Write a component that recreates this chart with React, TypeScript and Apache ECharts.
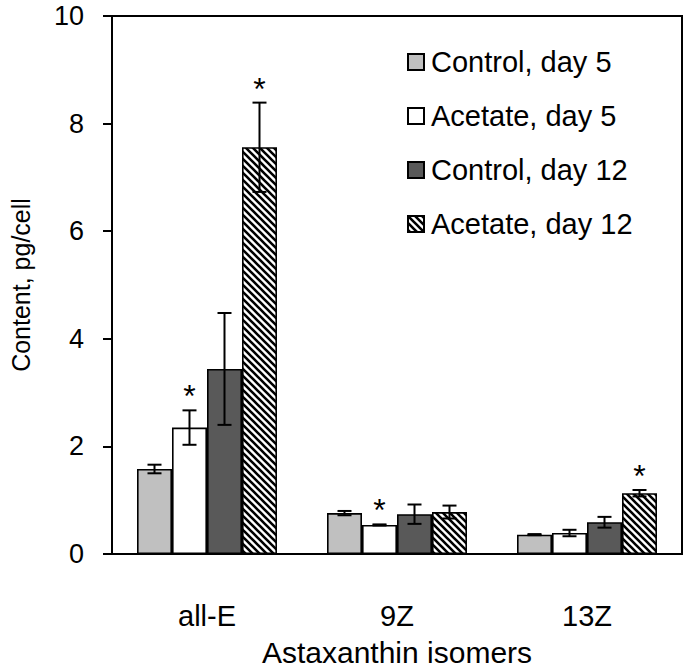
import React, { useEffect, useRef } from 'react';
import * as echarts from 'echarts';

const categories = ['all-E', '9Z', '13Z'];
const seriesNames = ['Control, day 5', 'Acetate, day 5', 'Control, day 12', 'Acetate, day 12'];
const control5 = [1.58, 0.76, 0.36];
const control5Err = [0.08, 0.04, 0.01];
const control5Sig = [false, false, false];
const acetate5 = [2.35, 0.54, 0.39];
const acetate5Err = [0.32, 0.01, 0.06];
const acetate5Sig = [true, true, false];
const control12 = [3.44, 0.74, 0.59];
const control12Err = [1.04, 0.18, 0.1];
const control12Sig = [false, false, false];
const acetate12 = [7.56, 0.78, 1.13];
const acetate12Err = [0.83, 0.12, 0.06];
const acetate12Sig = [true, false, true];
const yMin = 0;
const yMax = 10;
const yInterval = 2;

const FONT = "'Liberation Sans', Arial, Helvetica, sans-serif";
const BAR_WIDTH = 35;

function makeHatch(): HTMLCanvasElement {
  const s = 7;
  const c = document.createElement('canvas');
  c.width = s;
  c.height = s;
  const ctx = c.getContext('2d')!;
  ctx.fillStyle = '#ffffff';
  ctx.fillRect(0, 0, s, s);
  ctx.strokeStyle = '#000000';
  ctx.lineWidth = 2.6;
  ctx.beginPath();
  for (const o of [-s, 0, s]) {
    ctx.moveTo(o - 2, -2);
    ctx.lineTo(o + s + 2, s + 2);
  }
  ctx.stroke();
  return c;
}

export default function App() {
  const ref = useRef<HTMLDivElement>(null);

  useEffect(() => {
    if (!ref.current) return;
    const chart = echarts.init(ref.current, undefined, { renderer: 'svg' });

    const values = [control5, acetate5, control12, acetate12];
    const errs = [control5Err, acetate5Err, control12Err, acetate12Err];
    const sigs = [control5Sig, acetate5Sig, control12Sig, acetate12Sig];
    const fills: any[] = [
      '#c0c0c0',
      '#ffffff',
      '#595959',
      { image: makeHatch(), repeat: 'repeat' },
    ];

    const barSeries = seriesNames.map((name, i) => ({
      name,
      type: 'bar',
      data: values[i],
      barWidth: BAR_WIDTH,
      barGap: '0%',
      itemStyle: { color: fills[i], borderColor: '#000', borderWidth: 1.6 },
      emphasis: { disabled: true },
      z: 2,
    }));

    const errData: any[] = [];
    values.forEach((vals, si) => {
      vals.forEach((v, ci) => {
        errData.push([ci, si, v, errs[si][ci], sigs[si][ci] ? 1 : 0]);
      });
    });

    const errSeries = {
      type: 'custom',
      name: 'err',
      data: errData,
      encode: { x: 0, y: 2 },
      z: 5,
      silent: true,
      renderItem: (params: any, api: any) => {
        const ci = api.value(0);
        const si = api.value(1);
        const v = api.value(2);
        const e = api.value(3);
        const sig = api.value(4);
        const cx = api.coord([ci, 0])[0] + (si - 1.5) * BAR_WIDTH;
        const yTop = api.coord([ci, v + e])[1];
        const yBot = api.coord([ci, v - e])[1];
        const cap = 7;
        const ls = { stroke: '#000', lineWidth: 2 };
        const children: any[] = [
          { type: 'line', shape: { x1: cx, y1: yTop, x2: cx, y2: yBot }, style: ls },
          { type: 'line', shape: { x1: cx - cap, y1: yTop, x2: cx + cap, y2: yTop }, style: ls },
          { type: 'line', shape: { x1: cx - cap, y1: yBot, x2: cx + cap, y2: yBot }, style: ls },
        ];
        if (sig) {
          children.push({
            type: 'text',
            style: {
              text: '*',
              x: cx,
              y: yTop - 14,
              align: 'center',
              verticalAlign: 'middle',
              fontSize: 32,
              fontFamily: FONT,
              fill: '#000',
            },
          });
        }
        return { type: 'group', children };
      },
    };

    chart.setOption({
      animation: false,
      backgroundColor: '#ffffff',
      grid: {
        left: 103,
        right: 3,
        top: 16,
        bottom: 114,
        show: true,
        borderColor: '#000',
        borderWidth: 2,
        backgroundColor: 'transparent',
      },
      legend: {
        data: seriesNames,
        orient: 'vertical',
        left: 402,
        top: 42,
        itemWidth: 16,
        itemHeight: 16,
        itemGap: 24,
        icon: 'rect',
        selectedMode: false,
        textStyle: {
          fontSize: 29,
          fontFamily: FONT,
          color: '#000',
          lineHeight: 30,
          padding: [0, 0, 0, 2],
        },
      },
      xAxis: {
        type: 'category',
        data: categories,
        axisLine: { lineStyle: { color: '#000', width: 2 } },
        axisTick: { show: false },
        axisLabel: { fontSize: 29, fontFamily: FONT, color: '#000', margin: 47 },
        name: 'Astaxanthin isomers',
        nameLocation: 'middle',
        nameGap: 83,
        nameTextStyle: { fontSize: 30, fontFamily: FONT, color: '#000' },
      },
      yAxis: {
        type: 'value',
        min: yMin,
        max: yMax,
        interval: yInterval,
        axisLine: { show: true, lineStyle: { color: '#000', width: 2 } },
        axisTick: { show: true, inside: false, length: 9, lineStyle: { color: '#000', width: 2 } },
        splitLine: { show: false },
        axisLabel: { fontSize: 27, fontFamily: FONT, color: '#000', margin: 28 },
        name: 'Content, pg/cell',
        nameLocation: 'middle',
        nameGap: 79,
        nameTextStyle: { fontSize: 25, fontFamily: FONT, color: '#000' },
      },
      series: [...barSeries, errSeries],
    });

    return () => {
      chart.dispose();
    };
  }, []);

  return <div ref={ref} style={{ width: 685, height: 672, position: 'absolute', left: 0, top: 0 }} />;
}
